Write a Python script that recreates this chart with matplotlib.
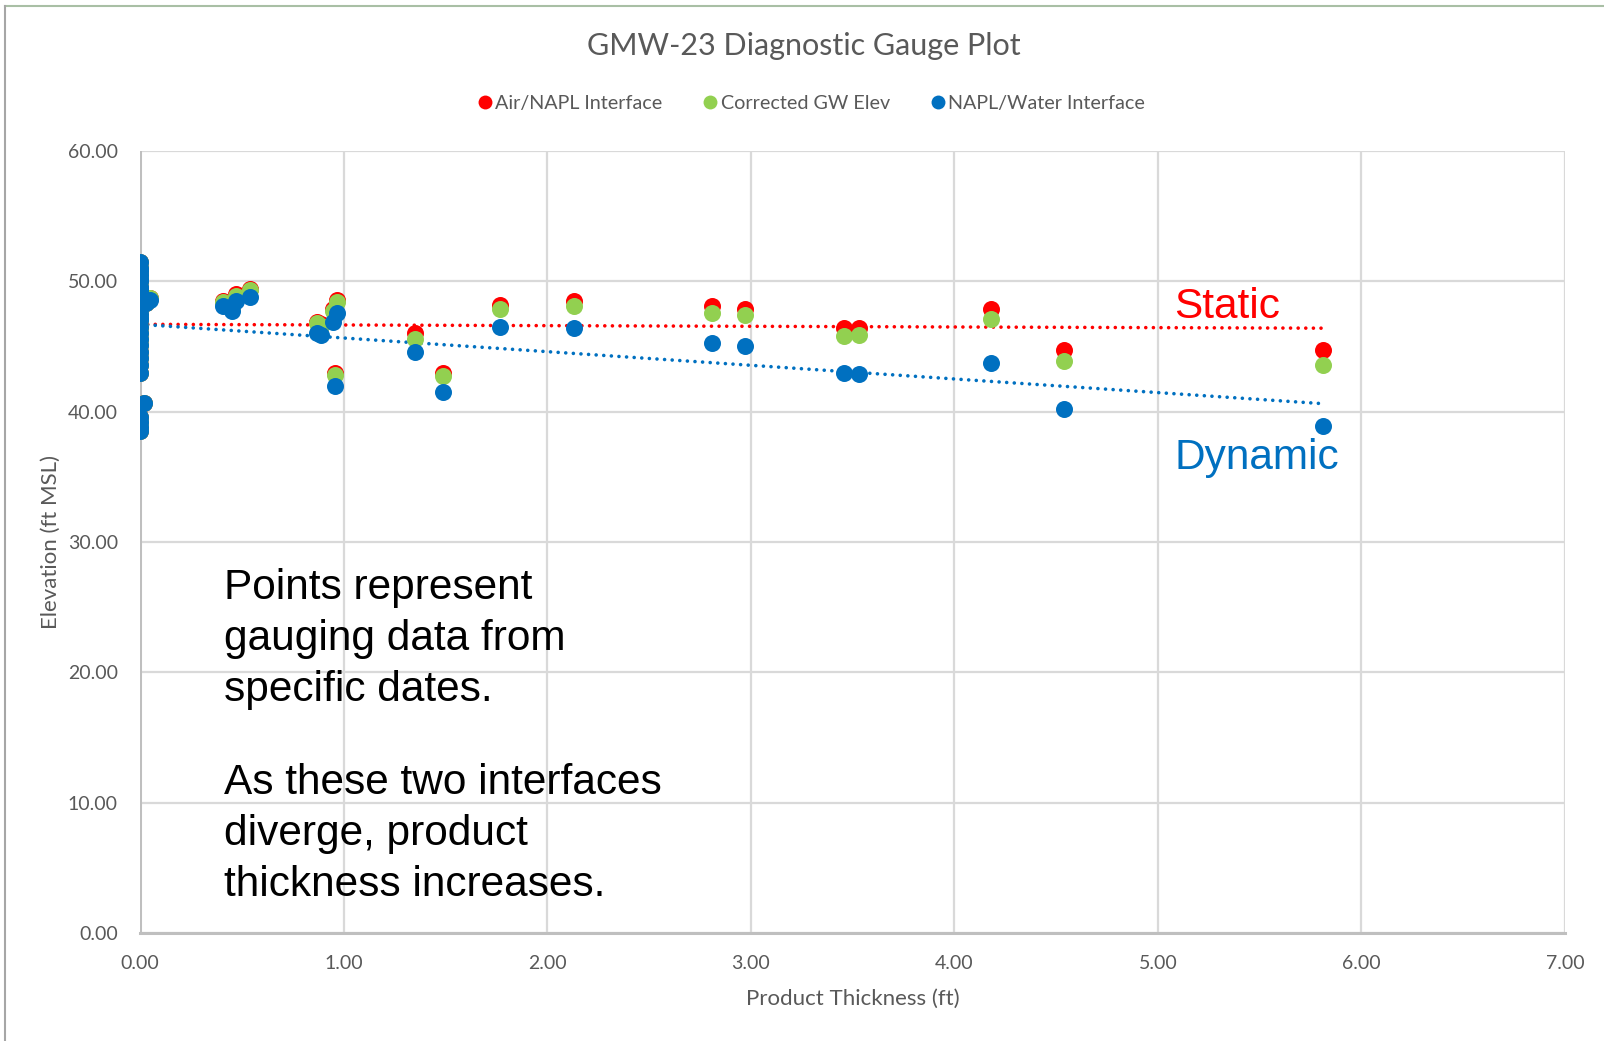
import numpy as np
import matplotlib
matplotlib.use("Agg")
import matplotlib.pyplot as plt
from matplotlib.lines import Line2D

# ---------------- data ----------------
thickness = [0, 0, 0, 0, 0, 0, 0, 0, 0, 0, 0, 0, 0, 0, 0, 0, 0, 0, 0, 0, 0, 0, 0,
             0, 0, 0, 0, 0,
             0.02, 0.03, 0.05, 0.41, 0.45, 0.47, 0.54, 0.87, 0.89, 0.95, 0.96, 0.97,
             1.35, 1.49, 1.77, 2.13, 2.81, 2.97, 3.46, 3.53, 4.18, 4.54, 5.81]

air_napl = [51.5, 51.0, 50.5, 50.0, 49.6, 49.2, 48.8, 48.3, 47.9, 47.5, 47.0, 46.5,
            46.0, 45.6, 45.1, 44.6, 44.1, 43.6, 43.0, 39.6, 39.2, 38.8, 38.5,
            50.8, 50.2, 49.4, 48.6, 47.2,
            40.7, 48.3, 48.7, 48.5, 48.1, 49.0, 49.4, 46.9, 46.7, 47.9, 43.0, 48.6,
            46.0, 43.0, 48.2, 48.5, 48.1, 47.9, 46.4, 46.45, 47.9, 44.7, 44.7]

corrected_gw = [51.5, 51.0, 50.5, 50.0, 49.6, 49.2, 48.8, 48.3, 47.9, 47.5, 47.0, 46.5,
                46.0, 45.6, 45.1, 44.6, 44.1, 43.6, 43.0, 39.6, 39.2, 38.8, 38.5,
                50.8, 50.2, 49.4, 48.6, 47.2,
                40.7, 48.3, 48.7, 48.4, 48.0, 48.9, 49.3, 46.8, 46.6, 47.7, 42.8, 48.4,
                45.6, 42.7, 47.9, 48.1, 47.6, 47.4, 45.8, 45.85, 47.1, 43.9, 43.6]

napl_water = [51.5, 51.0, 50.5, 50.0, 49.6, 49.2, 48.8, 48.3, 47.9, 47.5, 47.0, 46.5,
              46.0, 45.6, 45.1, 44.6, 44.1, 43.6, 43.0, 39.6, 39.2, 38.8, 38.5,
              50.8, 50.2, 49.4, 48.6, 47.2,
              40.7, 48.3, 48.6, 48.1, 47.7, 48.5, 48.8, 46.0, 45.9, 46.9, 42.0, 47.6,
              44.6, 41.5, 46.5, 46.4, 45.3, 45.0, 42.95, 42.9, 43.7, 40.2, 38.9]

series_names = ["Air/NAPL Interface", "Corrected GW Elev", "NAPL/Water Interface"]
x_ticks = [0, 1, 2, 3, 4, 5, 6, 7]
y_ticks = [0, 10, 20, 30, 40, 50, 60]

RED = "#FF0000"
GREEN = "#92D050"
BLUE = "#0070C0"
GRAY_TXT = "#595959"

# ---------------- figure ----------------
fig = plt.figure(figsize=(16.04, 10.41), dpi=100)
fig.patch.set_facecolor("white")
ax = fig.add_axes([140 / 1604, 1 - 933 / 1041, (1565 - 140) / 1604, (933 - 151) / 1041])

ax.set_xlim(0, 7)
ax.set_ylim(0, 60)
ax.set_xticks(x_ticks)
ax.set_yticks(y_ticks)
ax.set_xticklabels([f"{v:.2f}" for v in x_ticks])
ax.set_yticklabels([f"{v:.2f}" for v in y_ticks])
ax.grid(True, color="#D9D9D9", linewidth=1.6, zorder=0)
ax.set_axisbelow(True)
for s in ["top", "right", "left"]:
    ax.spines[s].set_visible(False)
ax.spines["bottom"].set_color("#BFBFBF")
ax.spines["bottom"].set_linewidth(2.2)
ax.axvline(0, color="#BFBFBF", linewidth=2.2, zorder=1)
ax.tick_params(axis="y", length=0, labelsize=14, labelcolor=GRAY_TXT, pad=16)
ax.tick_params(axis="x", length=0, labelsize=14, labelcolor=GRAY_TXT, pad=16)
for lab in ax.get_xticklabels() + ax.get_yticklabels():
    lab.set_family("Lato")

x = np.array(thickness)
ms = 150
ax.scatter(x, air_napl, s=ms, color=RED, zorder=3, linewidths=0)
ax.scatter(x, corrected_gw, s=ms, color=GREEN, zorder=4, linewidths=0)
ax.scatter(x, napl_water, s=ms, color=BLUE, zorder=5, linewidths=0)

# linear trendlines
xs = np.array([x.min(), x.max()])
for yv, col in [(air_napl, RED), (napl_water, BLUE)]:
    m, b = np.polyfit(x, np.array(yv), 1)
    ax.plot(xs, m * xs + b, color=col, linewidth=2.6, linestyle=(0, (0.01, 2.1)),
            dash_capstyle="round", zorder=2)

ax.set_xlabel("Product Thickness (ft)", fontsize=16, color=GRAY_TXT, family="Lato", labelpad=12)
ax.set_ylabel("Elevation (ft MSL)", fontsize=16, color=GRAY_TXT, family="Lato", labelpad=5)

fig.text(804 / 1604, 1 - 46 / 1041, "GMW-23 Diagnostic Gauge Plot", ha="center", va="center",
         fontsize=22, color=GRAY_TXT, family="Lato")

handles = [Line2D([], [], marker="o", linestyle="none", markersize=10, color=c, markeredgewidth=0)
           for c in (RED, GREEN, BLUE)]
fig.legend(handles, series_names, loc="center", bbox_to_anchor=(810 / 1604, 1 - 103.5 / 1041),
           ncol=3, frameon=False, handletextpad=0.05, columnspacing=1.9,
           prop={"family": "Lato", "size": 14.2}, labelcolor=GRAY_TXT, handlelength=1.0)

# annotations
ANN = dict(fontsize=30.5, family="Liberation Sans", color="black", ha="left", va="baseline")
lines1 = ["Points represent", "gauging data from", "specific dates."]
lines2 = ["As these two interfaces", "diverge, product", "thickness increases."]
for i, t in enumerate(lines1):
    fig.text(224 / 1604, 1 - (599 + 51 * i) / 1041, t, **ANN)
for i, t in enumerate(lines2):
    fig.text(224 / 1604, 1 - (794 + 51 * i) / 1041, t, **ANN)

fig.text(1174 / 1604, 1 - 318 / 1041, "Static", fontsize=30.5, family="Liberation Sans",
         color=RED, ha="left", va="baseline")
fig.text(1174 / 1604, 1 - 469 / 1041, "Dynamic", fontsize=30.5, family="Liberation Sans",
         color=BLUE, ha="left", va="baseline")

# chart border
fig.add_artist(Line2D([5 / 1604, 1], [1 - 6 / 1041, 1 - 6 / 1041], transform=fig.transFigure,
                      color="#A9BFA5", linewidth=1.5))
fig.add_artist(Line2D([5 / 1604, 5 / 1604], [0, 1 - 6 / 1041], transform=fig.transFigure,
                      color="#A6A6A6", linewidth=1.5))

fig.savefig("out.png", dpi=100, facecolor="white")
